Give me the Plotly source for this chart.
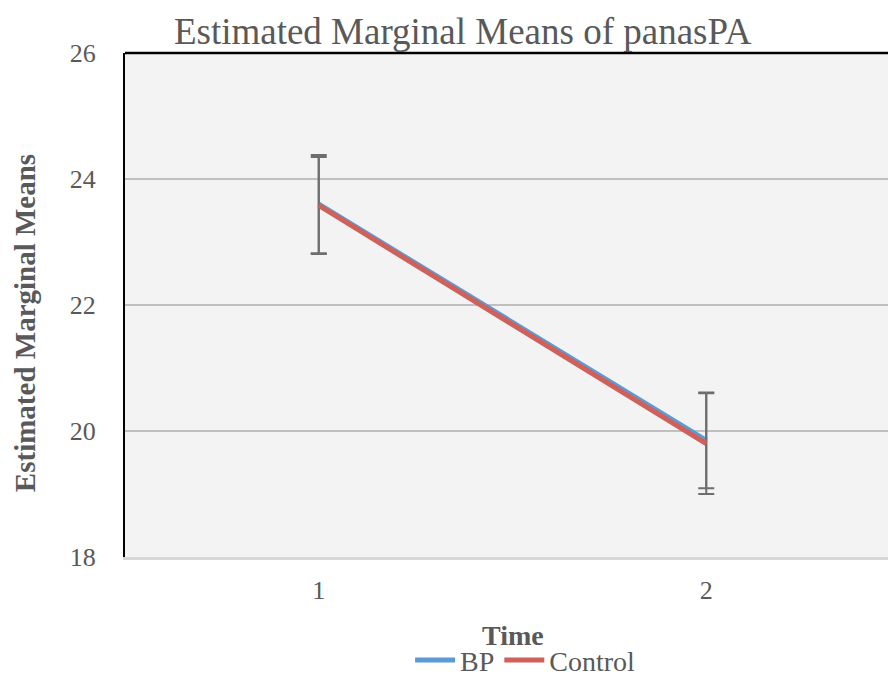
import plotly.graph_objects as go

# Estimated marginal means of positive affect (panasPA) by time point
time_points = [1, 2]
tick_labels = ["1", "2"]
groups = ["BP", "Control"]
bp_means = [23.60, 19.85]
bp_ci = [0.78, 0.76]
control_means = [23.58, 19.80]
control_ci = [0.77, 0.80]

y_ticks = [18, 20, 22, 24, 26]

FONT = "Liberation Serif, Times New Roman, serif"
TEXT = "#595959"
ERR = "#6d6d6d"

fig = go.Figure()

series = [
    (groups[0], bp_means, bp_ci, "#5b9bd5"),
    (groups[1], control_means, control_ci, "#d0605a"),
]
for name, means, ci, color in series:
    fig.add_trace(go.Scatter(
        x=time_points, y=means, name=name, mode="lines",
        line=dict(color=color, width=5),
        error_y=dict(type="data", array=ci, symmetric=True,
                     color=ERR, thickness=2, width=8),
    ))

fig.update_layout(
    width=888, height=680,
    margin=dict(l=125, r=0, t=53, b=123, autoexpand=False),
    paper_bgcolor="white",
    plot_bgcolor="#f3f3f3",
    font=dict(family=FONT, color=TEXT, size=26),
    title=dict(text="Estimated Marginal Means of panasPA",
               x=0.521, xanchor="center", xref="container",
               y=1 - 31 / 680, yanchor="middle", yref="container",
               font=dict(family=FONT, size=37, color=TEXT)),
    showlegend=True,
    legend=dict(orientation="h", x=0.525, xanchor="center",
                y=-0.205, yanchor="middle",
                font=dict(family=FONT, size=28, color=TEXT),
                bgcolor="rgba(0,0,0,0)", itemwidth=40,
                tracegroupgap=0),
)

fig.update_xaxes(
    range=[0.5, 2.469], automargin=False,
    tickvals=time_points, ticktext=tick_labels,
    showgrid=False, zeroline=False,
    showline=True, linecolor="#d6d6d6", linewidth=3,
    ticks="", ticklabelstandoff=8,
    tickfont=dict(family=FONT, size=26, color=TEXT),
)

fig.update_yaxes(
    range=[18, 26], tickvals=y_ticks, automargin=False,
    showgrid=True, gridcolor="#c0c0c0", gridwidth=1.5,
    zeroline=False,
    showline=True, linecolor="black", linewidth=2,
    ticks="", ticklabelstandoff=22,
    tickfont=dict(family=FONT, size=26, color=TEXT),
)

# category-axis title
fig.add_annotation(text="<b>Time</b>",
                   xref="paper", yref="paper", x=(513 - 125) / 763, y=0,
                   xanchor="center", yanchor="middle", yshift=-78,
                   showarrow=False,
                   font=dict(family=FONT, size=28, color=TEXT))

# vertical value-axis title, set slightly below the plot's midline
fig.add_annotation(text="<b>Estimated Marginal Means</b>",
                   xref="paper", yref="paper", x=0, y=0.464,
                   xanchor="center", yanchor="middle", xshift=-100,
                   textangle=-90, showarrow=False,
                   font=dict(family=FONT, size=29, color=TEXT))

# dark frame line along the top of the plotting area
fig.add_shape(type="line", xref="paper", yref="paper",
              x0=0, x1=1, y0=1, y1=1,
              line=dict(color="black", width=2.5))

fig.write_html("out.html")
